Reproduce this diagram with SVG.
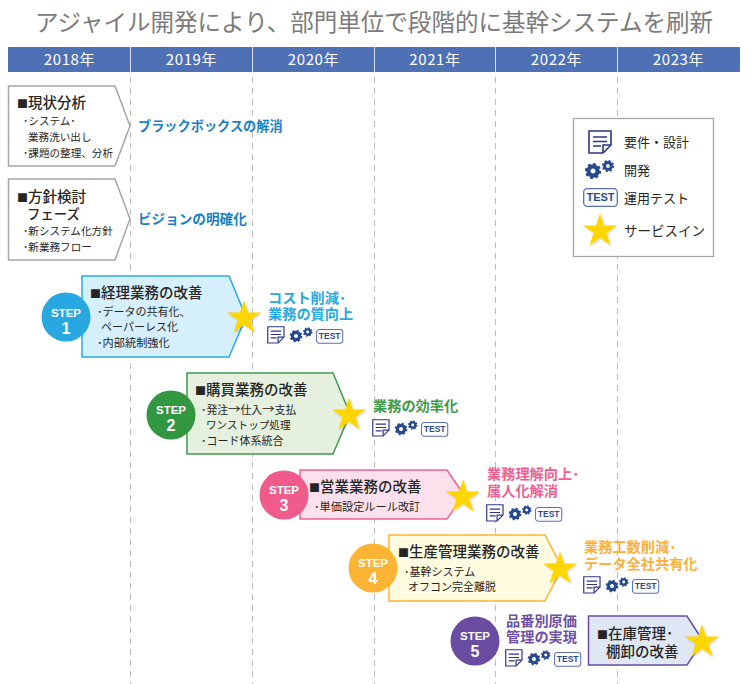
<svg xmlns="http://www.w3.org/2000/svg" width="751" height="684" viewBox="0 0 751 684">
<style>
text{font-family:"Noto Sans CJK JP","Noto Sans",sans-serif;fill:#262626}
.title{font-size:23.4px;fill:#7b7b7b;font-weight:400}
.yr{font-size:15px;fill:#fff;text-anchor:middle;letter-spacing:.6px}
.hd{font-size:14.5px;font-weight:500}
.bx{font-size:11px}
.sub{font-size:10.6px}
.sb2{font-size:11.2px}
.lab{font-size:14.2px;font-weight:700}
.leg{font-size:13px}
.st{font-family:"Liberation Sans",Arial,sans-serif;font-size:11.5px;font-weight:700;fill:#fff;text-anchor:middle}
.no{font-family:"Liberation Sans",Arial,sans-serif;font-size:16px;font-weight:700;fill:#fff;text-anchor:middle}
.grid{stroke:#bdbdbd;stroke-width:1;stroke-dasharray:6 5;fill:none}
.sep{stroke:#d9e1f0;stroke-width:1}
.gray{fill:#fff;stroke:#a6a6a6;stroke-width:1.5}
.star{fill:#ffd500}
.docb{fill:#fff;stroke:#2e3586;stroke-width:1.6}
.docl{stroke:#2e3586;stroke-width:1.6;fill:none}
.gr{fill:none;stroke:#27498f}
.tb{fill:#fff;stroke:#5a6fb3;stroke-width:1.3}
.tt{font-family:"Liberation Sans",Arial,sans-serif;font-size:11px;font-weight:700;fill:#2c4a8f;text-anchor:middle}
</style>
<defs>
<filter id="sh" x="-20%" y="-20%" width="150%" height="150%"><feDropShadow dx="1" dy="1" stdDeviation="1" flood-color="#000" flood-opacity=".2"/></filter>
<g id="star"><polygon class="star" filter="url(#sh)" transform="scale(1.05)" points="0,-17 3.82,-5.26 16.17,-5.25 6.18,2.01 9.99,13.75 0,6.5 -9.99,13.75 -6.18,2.01 -16.17,-5.25 -3.82,-5.26"/></g>
<g id="doc">
<path class="docb" d="M1,1H23V15L15,23H1Z"/>
<path class="docl" d="M15,23V15H23M5,7H19M5,11.5H19M5,16H13"/>
</g>
<g id="gears">
<circle class="gr" r="4.6" stroke-width="4.2"/><circle class="gr" r="7" stroke-width="2.2" stroke-dasharray="2.75 2.75"/>
<circle class="gr" cx="15" cy="-5" r="3.4" stroke-width="3"/><circle class="gr" cx="15" cy="-5" r="5.2" stroke-width="1.8" stroke-dasharray="2.04 2.04"/>
</g>
<g id="test">
<rect class="tb" x="0.7" y="0.7" width="33.6" height="17.6" rx="3.5"/>
<text class="tt" x="17.5" y="13.2">TEST</text>
</g>
<g id="icons">
<use href="#doc" transform="scale(.74)"/>
<use href="#gears" transform="translate(29,10) scale(.78)"/>
<use href="#test" transform="translate(49,3) scale(.78)"/>
</g>
</defs>

<text class="title" x="35" y="31" textLength="678" lengthAdjust="spacingAndGlyphs">アジャイル開発により、部門単位で段階的に基幹システムを刷新</text>

<g id="connectors">
<path class="grid" d="M130.5 77V684M252.5 77V684M374.5 77V684M495.5 77V684M617.5 77V684"/>
</g>

<g id="timeline">
<rect x="8" y="47" width="732" height="25" fill="#4e71b6"/>
<path class="sep" d="M130.5 47V72M252.5 47V72M374.5 47V72M495.5 47V72M617.5 47V72"/>
<text class="yr" x="69.5" y="65">2018年</text>
<text class="yr" x="191.5" y="65">2019年</text>
<text class="yr" x="313.5" y="65">2020年</text>
<text class="yr" x="435" y="65">2021年</text>
<text class="yr" x="556.5" y="65">2022年</text>
<text class="yr" x="678.5" y="65">2023年</text>
</g>

<g id="phase-genjo">
<polygon class="gray" points="8.5,86 115,86 130,126 115,166 8.5,166"/>
<text class="hd" x="17" y="108"><tspan style="font-size:11px">■</tspan>現状分析</text>
<text class="sub" x="23" y="125">･システム･</text>
<text class="sub" x="28" y="141">業務洗い出し</text>
<text class="sub" x="23" y="157">･課題の整理、分析</text>
<text class="lab" x="138" y="131" style="fill:#1b7fc4;font-size:13.2px">ブラックボックスの解消</text>
</g>

<g id="phase-hoshin">
<polygon class="gray" points="8.5,179 115,179 130,219 115,260 8.5,260"/>
<text class="hd" x="17" y="202"><tspan style="font-size:11px">■</tspan>方針検討</text>
<text class="hd" x="27" y="219" style="font-size:13.4px">フェーズ</text>
<text class="sub" x="23" y="235">･新システム化方針</text>
<text class="sub" x="23" y="251">･新業務フロー</text>
<text class="lab" x="138" y="224" style="fill:#1b7fc4;font-size:13.6px">ビジョンの明確化</text>
</g>

<g id="legend">
<rect x="573.5" y="118.5" width="140" height="138" fill="#fff" stroke="#a6a6a6" stroke-width="1.3"/>
<use href="#doc" x="588" y="130"/>
<use href="#gears" x="593" y="171"/>
<use href="#test" x="583" y="188"/>
<use href="#star" x="600" y="231"/>
<text class="leg" x="624" y="147">要件・設計</text>
<text class="leg" x="624" y="175">開発</text>
<text class="leg" x="624" y="203">運用テスト</text>
<text class="leg" x="624" y="236" style="font-size:13.5px">サービスイン</text>
</g>

<g id="step1">
<polygon points="82,276 229,276 246,317 229,357 82,357" fill="#d6effc" stroke="#2aa9e3" stroke-width="1.5"/>
<circle cx="66" cy="317" r="24.5" fill="#28a7e1"/>
<text class="st" x="66" y="317">STEP</text><text class="no" x="66" y="334">1</text>
<text class="hd" x="90" y="298"><tspan style="font-size:11px">■</tspan>経理業務の改善</text>
<text class="bx" x="97" y="316">･データの共有化、</text>
<text class="bx" x="101" y="331">ペーパーレス化</text>
<text class="sb2" x="97" y="347">･内部統制強化</text>
<use href="#star" x="244" y="318"/>
<text class="lab" x="268" y="303" style="fill:#29a9e1">コスト削減･</text>
<text class="lab" x="268" y="319" style="fill:#29a9e1">業務の質向上</text>
<use href="#icons" x="267" y="326"/>
</g>

<g id="step2">
<polygon points="187,373 333,373 350,414 333,454 187,454" fill="#e5f0de" stroke="#3f9a4b" stroke-width="1.5"/>
<circle cx="171" cy="415" r="24.5" fill="#329740"/>
<text class="st" x="171" y="414">STEP</text><text class="no" x="171" y="431">2</text>
<text class="hd" x="195" y="395"><tspan style="font-size:11px">■</tspan>購買業務の改善</text>
<text class="sub" x="201" y="414" style="font-size:10.8px">･発注<tspan style="font-size:12.5px">→</tspan>仕入<tspan style="font-size:12.5px">→</tspan>支払</text>
<text class="sub" x="206" y="429">ワンストップ処理</text>
<text class="bx" x="201" y="445">･コード体系統合</text>
<use href="#star" x="349" y="415"/>
<text class="lab" x="373" y="411" style="fill:#3f9a4b">業務の効率化</text>
<use href="#icons" x="372" y="419"/>
</g>

<g id="step3">
<polygon points="300,470 447,470 464,495 447,519 300,519" fill="#fce1ec" stroke="#ef6092" stroke-width="1.5"/>
<circle cx="284" cy="495" r="24.5" fill="#f05b8c"/>
<text class="st" x="284" y="494">STEP</text><text class="no" x="284" y="511">3</text>
<text class="hd" x="309" y="492"><tspan style="font-size:11px">■</tspan>営業業務の改善</text>
<text class="sb2" x="314" y="511">･単価設定ルール改訂</text>
<use href="#star" x="463" y="497"/>
<text class="lab" x="487" y="479" style="fill:#ef5f8f">業務理解向上･</text>
<text class="lab" x="487" y="496" style="fill:#ef5f8f">属人化解消</text>
<use href="#icons" x="486" y="504"/>
</g>

<g id="step4">
<polygon points="389,535 545,535 562,568 545,601 389,601" fill="#fefbe0" stroke="#fbb535" stroke-width="1.5"/>
<circle cx="373" cy="568" r="24.5" fill="#fbb433"/>
<text class="st" x="373" y="567">STEP</text><text class="no" x="373" y="584">4</text>
<text class="hd" x="398" y="557"><tspan style="font-size:11px">■</tspan>生産管理業務の改善</text>
<text class="bx" x="404" y="576">･基幹システム</text>
<text class="bx" x="408" y="591">オフコン完全離脱</text>
<use href="#star" x="560" y="569"/>
<text class="lab" x="584" y="552" style="fill:#fbb03b">業務工数削減･</text>
<text class="lab" x="584" y="569" style="fill:#fbb03b">データ全社共有化</text>
<use href="#icons" x="583" y="576"/>
</g>

<g id="step5">
<circle cx="475" cy="641" r="24.5" fill="#6a4ca0"/>
<text class="st" x="475" y="640">STEP</text><text class="no" x="475" y="657">5</text>
<text class="lab" x="506" y="626" style="fill:#6f51a5">品番別原価</text>
<text class="lab" x="506" y="642" style="fill:#6f51a5">管理の実現</text>
<use href="#icons" x="505" y="649"/>
<polygon points="588.5,616 687,616 703,641 687,665 588.5,665" fill="#dfe6f4" stroke="#6a4ca0" stroke-width="1.5"/>
<text class="hd" x="597" y="639"><tspan style="font-size:11px">■</tspan>在庫管理･</text>
<text class="hd" x="606" y="657">棚卸の改善</text>
<use href="#star" x="702" y="642"/>
</g>
</svg>
